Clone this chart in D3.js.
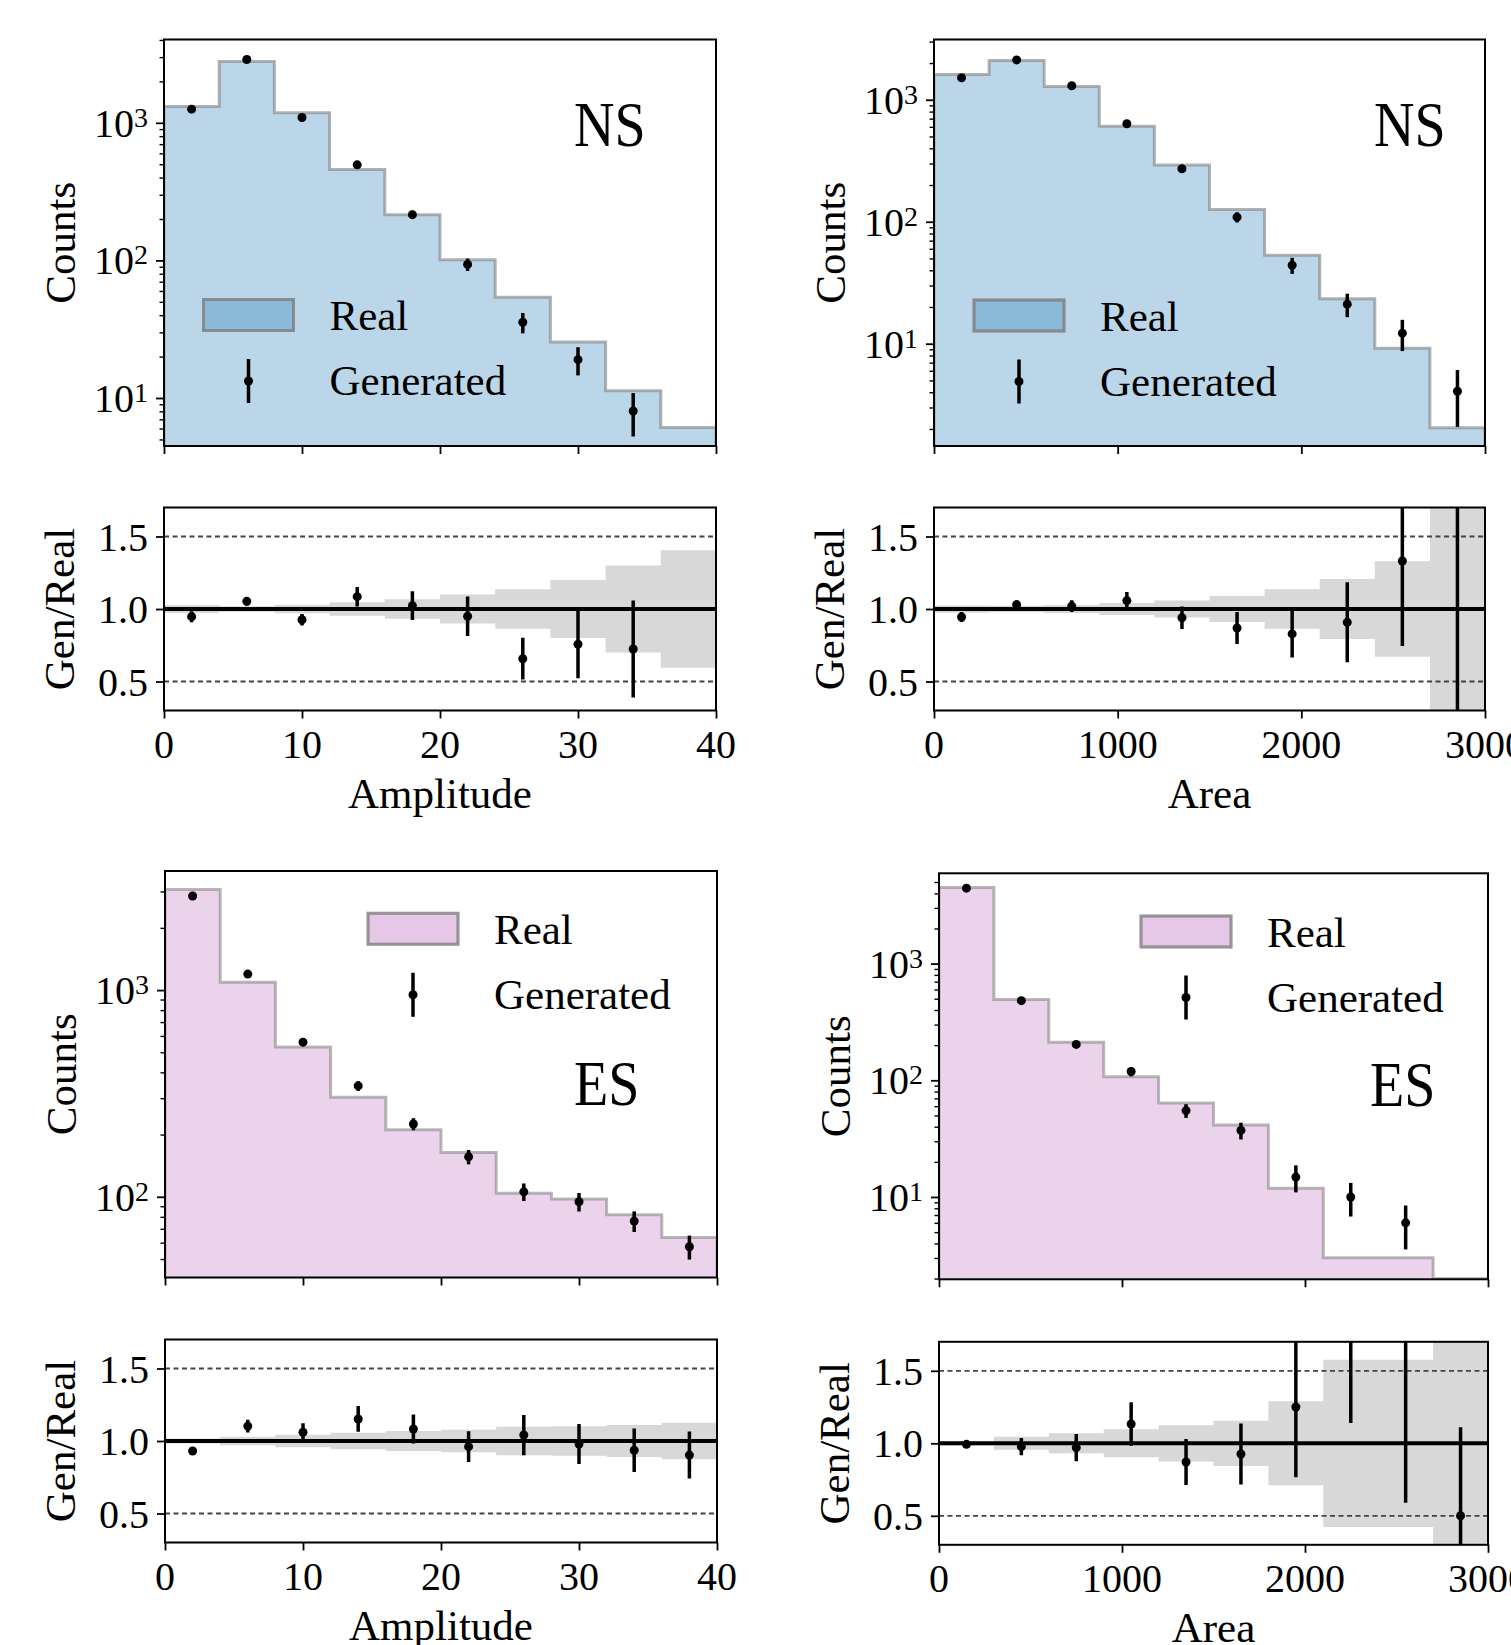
<!DOCTYPE html>
<html><head><meta charset="utf-8">
<script src="https://cdn.jsdelivr.net/npm/d3@7"></script>
<style>
body{margin:0;background:#fff}
svg{display:block}
text{font-family:"Liberation Serif","DejaVu Serif",serif;fill:#000}
</style>
</head><body>
<svg id="c" width="1511" height="1645"></svg>
<script>
// ---------------- DATA ----------------
const ampEdges  = [0, 4, 8, 12, 16, 20, 24, 28, 32, 36, 40];
const areaEdges = [0, 300, 600, 900, 1200, 1500, 1800, 2100, 2400, 2700, 3000];
const ampTicks  = [0, 10, 20, 30, 40];
const ampTickLabels  = ["0", "10", "20", "30", "40"];
const areaTicks = [0, 1000, 2000, 3000];
const areaTickLabels = ["0", "1000", "2000", "3000"];
const ratioTicks = [0.5, 1.0, 1.5];
const ratioTickLabels = ["0.5", "1.0", "1.5"];
const legendLabels = ["Real", "Generated"];

// NS – Amplitude
const nsAmpReal   = [1313, 2786, 1182, 458, 215, 101, 54, 25.5, 11.3, 6.1];
const nsAmpGen    = [1256, 2884, 1093, 495, 215, 93.5, 35.5, 19, 8.05, null];
const nsAmpGenErr = [35, 54, 33, 22, 15, 9.7, 6, 4.4, 2.8, null];
const nsAmpRatio    = [0.947, 1.053, 0.926, 1.085, 1.023, 0.95, 0.657, 0.757, 0.724, null];
const nsAmpRatioErr = [0.038, 0.03, 0.04, 0.067, 0.099, 0.136, 0.144, 0.235, 0.335, null];
const nsAmpBand     = [0.028, 0.019, 0.029, 0.047, 0.068, 0.1, 0.136, 0.2, 0.3, 0.405];

// NS – Area
const nsAreaReal   = [1611, 2100, 1285, 608, 292, 126, 53, 23.4, 9.2, 2.05];
const nsAreaGen    = [1514, 2123, 1302, 636, 272, 109, 44, 21.1, 12.2, 4.08];
const nsAreaGenErr = [39, 46, 36, 25, 16.5, 10.4, 6.6, 4.6, 3.5, 2.0];
const nsAreaRatio    = [0.945, 1.03, 1.02, 1.058, 0.94, 0.869, 0.828, 0.908, 1.331, 2.0];
const nsAreaRatioErr = [0.035, 0.03, 0.04, 0.06, 0.078, 0.11, 0.163, 0.276, 0.586, 1.73];
const nsAreaBand     = [0.025, 0.022, 0.028, 0.041, 0.059, 0.089, 0.137, 0.207, 0.33, 0.707];

// ES – Amplitude
const esAmpReal   = [3069, 1090, 530, 303, 211, 164, 104, 97.5, 81.8, 63.6];
const esAmpGen    = [2851, 1195, 560, 344, 225, 156, 105.7, 94.6, 76.3, 57.3];
const esAmpGenErr = [53, 35, 24, 18.5, 15, 12.5, 10.3, 9.7, 8.7, 7.6];
const esAmpRatio    = [0.931, 1.103, 1.06, 1.152, 1.083, 0.961, 1.041, 0.979, 0.936, 0.903];
const esAmpRatioErr = [0.024, 0.044, 0.063, 0.089, 0.10, 0.106, 0.139, 0.138, 0.15, 0.162];
const esAmpBand     = [0.018, 0.030, 0.043, 0.057, 0.069, 0.078, 0.098, 0.101, 0.11, 0.126];

// ES – Area
const esAreaReal   = [4480, 493, 212, 107, 64, 41.3, 11.9, 3.02, 3.02, 2.0];
const esAreaGen    = [4430, 481, 203, 119, 55, 37.2, 14.8, 10, 6, 1];
const esAreaGenErr = [67, 22, 14, 11, 7.4, 6.1, 3.85, 3.2, 2.45, 0.9];
const esAreaRatio    = [0.993, 0.977, 0.97, 1.133, 0.871, 0.926, 1.25, 3.33, 2.0, 0.5];
const esAreaRatioErr = [0.02, 0.06, 0.094, 0.15, 0.159, 0.21, 0.484, 2.19, 1.41, 0.61];
const esAreaBand     = [0.015, 0.045, 0.069, 0.097, 0.125, 0.156, 0.29, 0.577, 0.577, 0.707];

// ---------------- STYLE / LAYOUT ----------------
const themes = {
  blue: {fill: "rgba(31,119,180,0.3)", legendFill: "rgba(31,119,180,0.3)", stroke: "rgba(128,128,128,0.6)"},
  pink: {fill: "rgba(192,110,192,0.3)", legendFill: "rgba(188,100,188,0.36)", stroke: "rgba(128,128,128,0.55)"}
};

const panels = [
  {key: "tl", edges: ampEdges, xTicks: ampTicks, xTickLabels: ampTickLabels, xLabel: "Amplitude",
   real: nsAmpReal, gen: nsAmpGen, genErr: nsAmpGenErr, ratio: nsAmpRatio, ratioErr: nsAmpRatioErr, band: nsAmpBand,
   yDomain: [4.48, 4030], logTicks: [10, 100, 1000], tag: "NS", theme: "blue",
   left: 164, right: 716, mainTop: 39.5, mainBottom: 446, ratioTop: 507.5, ratioBottom: 710.5,
   legDx: 39.5, legDy: 260, tagDx: 410, tagDy: 106},
  {key: "tr", edges: areaEdges, xTicks: areaTicks, xTickLabels: areaTickLabels, xLabel: "Area",
   real: nsAreaReal, gen: nsAreaGen, genErr: nsAreaGenErr, ratio: nsAreaRatio, ratioErr: nsAreaRatioErr, band: nsAreaBand,
   yDomain: [1.45, 3120], logTicks: [10, 100, 1000], tag: "NS", theme: "blue",
   left: 934, right: 1485, mainTop: 39.5, mainBottom: 446, ratioTop: 507.5, ratioBottom: 710.5,
   legDx: 40, legDy: 260.5, tagDx: 440, tagDy: 106},
  {key: "bl", edges: ampEdges, xTicks: ampTicks, xTickLabels: ampTickLabels, xLabel: "Amplitude",
   real: esAmpReal, gen: esAmpGen, genErr: esAmpGenErr, ratio: esAmpRatio, ratioErr: esAmpRatioErr, band: esAmpBand,
   yDomain: [40.7, 3767], logTicks: [100, 1000], tag: "ES", theme: "pink",
   left: 165, right: 717, mainTop: 871, mainBottom: 1277.5, ratioTop: 1339.5, ratioBottom: 1542.5,
   legDx: 203, legDy: 42.3, tagDx: 409, tagDy: 234},
  {key: "br", edges: areaEdges, xTicks: areaTicks, xTickLabels: areaTickLabels, xLabel: "Area",
   real: esAreaReal, gen: esAreaGen, genErr: esAreaGenErr, ratio: esAreaRatio, ratioErr: esAreaRatioErr, band: esAreaBand,
   yDomain: [1.97, 5940], logTicks: [10, 100, 1000], tag: "ES", theme: "pink",
   left: 939, right: 1488, mainTop: 873.3, mainBottom: 1279.3, ratioTop: 1341.8, ratioBottom: 1544.8,
   legDx: 202, legDy: 42.7, tagDx: 431, tagDy: 232.4}
];

const DIGIT = 40, WORD = 43, SUP = 28, TAG = 63;

const svg = d3.select("#c");
const defs = svg.append("defs");

function drawPanel(p) {
  const th = themes[p.theme];
  const n = p.real.length;
  const x = d3.scaleLinear().domain([p.edges[0], p.edges[n]]).range([p.left, p.right]);
  const y = d3.scaleLog().domain(p.yDomain).range([p.mainBottom, p.mainTop]);
  const yr = d3.scaleLinear().domain([0.3, 1.7]).range([p.ratioBottom, p.ratioTop]);
  const mids = d3.range(n).map(i => (p.edges[i] + p.edges[i + 1]) / 2);
  const yMin = p.yDomain[0];

  // clip paths
  defs.append("clipPath").attr("id", "m" + p.key).append("rect")
    .attr("x", p.left).attr("y", p.mainTop).attr("width", p.right - p.left).attr("height", p.mainBottom - p.mainTop);
  defs.append("clipPath").attr("id", "r" + p.key).append("rect")
    .attr("x", p.left).attr("y", p.ratioTop).attr("width", p.right - p.left).attr("height", p.ratioBottom - p.ratioTop);

  // ---------- main panel ----------
  const gm = svg.append("g").attr("clip-path", `url(#m${p.key})`);
  const pts = [{e: p.edges[0], v: yMin}]
    .concat(d3.range(n).map(i => ({e: p.edges[i], v: p.real[i]})))
    .concat([{e: p.edges[n], v: p.real[n - 1]}, {e: p.edges[n], v: yMin}]);
  gm.append("path").datum(pts)
    .attr("d", d3.area().x(d => x(d.e)).y0(p.mainBottom).y1(d => y(Math.max(d.v, yMin))).curve(d3.curveStepAfter))
    .attr("fill", th.fill);
  gm.append("path").datum(pts)
    .attr("d", d3.line().x(d => x(d.e)).y(d => y(Math.max(d.v, yMin))).curve(d3.curveStepAfter))
    .attr("fill", "none").attr("stroke", th.stroke).attr("stroke-width", 3);

  const genIdx = d3.range(n).filter(i => p.gen[i] != null);
  gm.selectAll(".eb").data(genIdx).join("line")
    .attr("x1", i => x(mids[i])).attr("x2", i => x(mids[i]))
    .attr("y1", i => y(Math.max(p.gen[i] - p.genErr[i], yMin * 0.5)))
    .attr("y2", i => y(p.gen[i] + p.genErr[i]))
    .attr("stroke", "#000").attr("stroke-width", 3.5);
  gm.selectAll(".pt").data(genIdx).join("circle")
    .attr("cx", i => x(mids[i])).attr("cy", i => y(p.gen[i])).attr("r", 4.5).attr("fill", "#000");

  // legend
  const lx = p.left + p.legDx, ly = p.mainTop + p.legDy;
  const pw = 90, ph = 31;
  svg.append("rect").attr("x", lx).attr("y", ly).attr("width", pw).attr("height", ph)
    .attr("fill", th.legendFill).attr("stroke", th.stroke).attr("stroke-width", 3);
  svg.append("rect").attr("x", lx).attr("y", ly).attr("width", pw).attr("height", ph)
    .attr("fill", "none").attr("stroke", th.stroke).attr("stroke-width", 3);
  const mcx = lx + pw / 2, mcy = ly + ph / 2 + 66;
  svg.append("line").attr("x1", mcx).attr("x2", mcx).attr("y1", mcy - 22).attr("y2", mcy + 22)
    .attr("stroke", "#000").attr("stroke-width", 3.5);
  svg.append("circle").attr("cx", mcx).attr("cy", mcy).attr("r", 4.5).attr("fill", "#000");
  svg.append("text").attr("x", lx + pw + 36).attr("y", ly + ph / 2 + 15).attr("font-size", WORD).text(legendLabels[0]);
  svg.append("text").attr("x", lx + pw + 36).attr("y", mcy + 14).attr("font-size", WORD).text(legendLabels[1]);

  // tag
  svg.append("text").attr("transform", `translate(${p.left + p.tagDx},${p.mainTop + p.tagDy}) scale(0.89,1)`)
    .attr("font-size", TAG).text(p.tag);

  // main axes ticks
  const lg = Math.floor(Math.log10(yMin)), hg = Math.ceil(Math.log10(p.yDomain[1]));
  const minor = [];
  for (let k = lg; k <= hg; k++) for (let m = 2; m <= 9; m++) {
    const v = m * Math.pow(10, k);
    if (v >= yMin && v <= p.yDomain[1]) minor.push(v);
  }
  const axMaj = svg.append("g").attr("transform", `translate(${p.left},0)`)
    .call(d3.axisLeft(y).tickValues(p.logTicks).tickSize(8).tickFormat(""));
  const axMin = svg.append("g").attr("transform", `translate(${p.left},0)`)
    .call(d3.axisLeft(y).tickValues(minor).tickSize(4.5).tickFormat(""));
  const axXm = svg.append("g").attr("transform", `translate(0,${p.mainBottom})`)
    .call(d3.axisBottom(x).tickValues(p.xTicks).tickSize(8).tickFormat(""));
  [axMaj, axMin, axXm].forEach(a => { a.select(".domain").remove(); a.selectAll("line").attr("stroke", "#000").attr("stroke-width", 1.8); });
  axMin.selectAll("line").attr("stroke-width", 1.4);

  p.logTicks.forEach(v => {
    const t = svg.append("text").attr("x", p.left - 16).attr("y", y(v) + 14)
      .attr("text-anchor", "end").attr("font-size", DIGIT);
    t.append("tspan").text("10");
    t.append("tspan").attr("dy", -10).attr("font-size", SUP).text(String(Math.round(Math.log10(v))));
  });
  svg.append("text").attr("transform", `translate(${p.left - 89},${(p.mainTop + p.mainBottom) / 2}) rotate(-90)`)
    .attr("text-anchor", "middle").attr("font-size", WORD).text("Counts");

  svg.append("rect").attr("x", p.left).attr("y", p.mainTop).attr("width", p.right - p.left)
    .attr("height", p.mainBottom - p.mainTop).attr("fill", "none").attr("stroke", "#000").attr("stroke-width", 2);

  // ---------- ratio panel ----------
  const gr = svg.append("g").attr("clip-path", `url(#r${p.key})`);
  const bpts = d3.range(n).map(i => ({e: p.edges[i], b: p.band[i]})).concat([{e: p.edges[n], b: p.band[n - 1]}]);
  gr.append("path").datum(bpts)
    .attr("d", d3.area().x(d => x(d.e)).y0(d => yr(1 - d.b)).y1(d => yr(1 + d.b)).curve(d3.curveStepAfter))
    .attr("fill", "#d8d8d8");
  [0.5, 1.5].forEach(v => gr.append("line").attr("x1", p.left).attr("x2", p.right).attr("y1", yr(v)).attr("y2", yr(v))
    .attr("stroke", "#444").attr("stroke-width", 1.8).attr("stroke-dasharray", "5,3.5"));
  gr.append("line").attr("x1", p.left).attr("x2", p.right).attr("y1", yr(1)).attr("y2", yr(1))
    .attr("stroke", "#000").attr("stroke-width", 4);
  const rIdx = d3.range(n).filter(i => p.ratio[i] != null);
  gr.selectAll(".reb").data(rIdx).join("line")
    .attr("x1", i => x(mids[i])).attr("x2", i => x(mids[i]))
    .attr("y1", i => yr(p.ratio[i] - p.ratioErr[i])).attr("y2", i => yr(p.ratio[i] + p.ratioErr[i]))
    .attr("stroke", "#000").attr("stroke-width", 3.5);
  gr.selectAll(".rpt").data(rIdx).join("circle")
    .attr("cx", i => x(mids[i])).attr("cy", i => yr(p.ratio[i])).attr("r", 4.5).attr("fill", "#000");

  const axRy = svg.append("g").attr("transform", `translate(${p.left},0)`)
    .call(d3.axisLeft(yr).tickValues(ratioTicks).tickSize(8).tickFormat(""));
  const axRx = svg.append("g").attr("transform", `translate(0,${p.ratioBottom})`)
    .call(d3.axisBottom(x).tickValues(p.xTicks).tickSize(8).tickFormat(""));
  [axRy, axRx].forEach(a => { a.select(".domain").remove(); a.selectAll("line").attr("stroke", "#000").attr("stroke-width", 1.8); });

  ratioTicks.forEach((v, i) => svg.append("text").attr("x", p.left - 16).attr("y", yr(v) + 14)
    .attr("text-anchor", "end").attr("font-size", DIGIT).text(ratioTickLabels[i]));
  p.xTicks.forEach((v, i) => svg.append("text").attr("x", x(v)).attr("y", p.ratioBottom + 47)
    .attr("text-anchor", "middle").attr("font-size", DIGIT).text(p.xTickLabels[i]));
  svg.append("text").attr("x", (p.left + p.right) / 2).attr("y", p.ratioBottom + 97)
    .attr("text-anchor", "middle").attr("font-size", WORD).text(p.xLabel);
  svg.append("text").attr("transform", `translate(${p.left - 90},${(p.ratioTop + p.ratioBottom) / 2}) rotate(-90)`)
    .attr("text-anchor", "middle").attr("font-size", WORD).text("Gen/Real");

  svg.append("rect").attr("x", p.left).attr("y", p.ratioTop).attr("width", p.right - p.left)
    .attr("height", p.ratioBottom - p.ratioTop).attr("fill", "none").attr("stroke", "#000").attr("stroke-width", 2);
}

panels.forEach(drawPanel);
</script>
</body></html>
